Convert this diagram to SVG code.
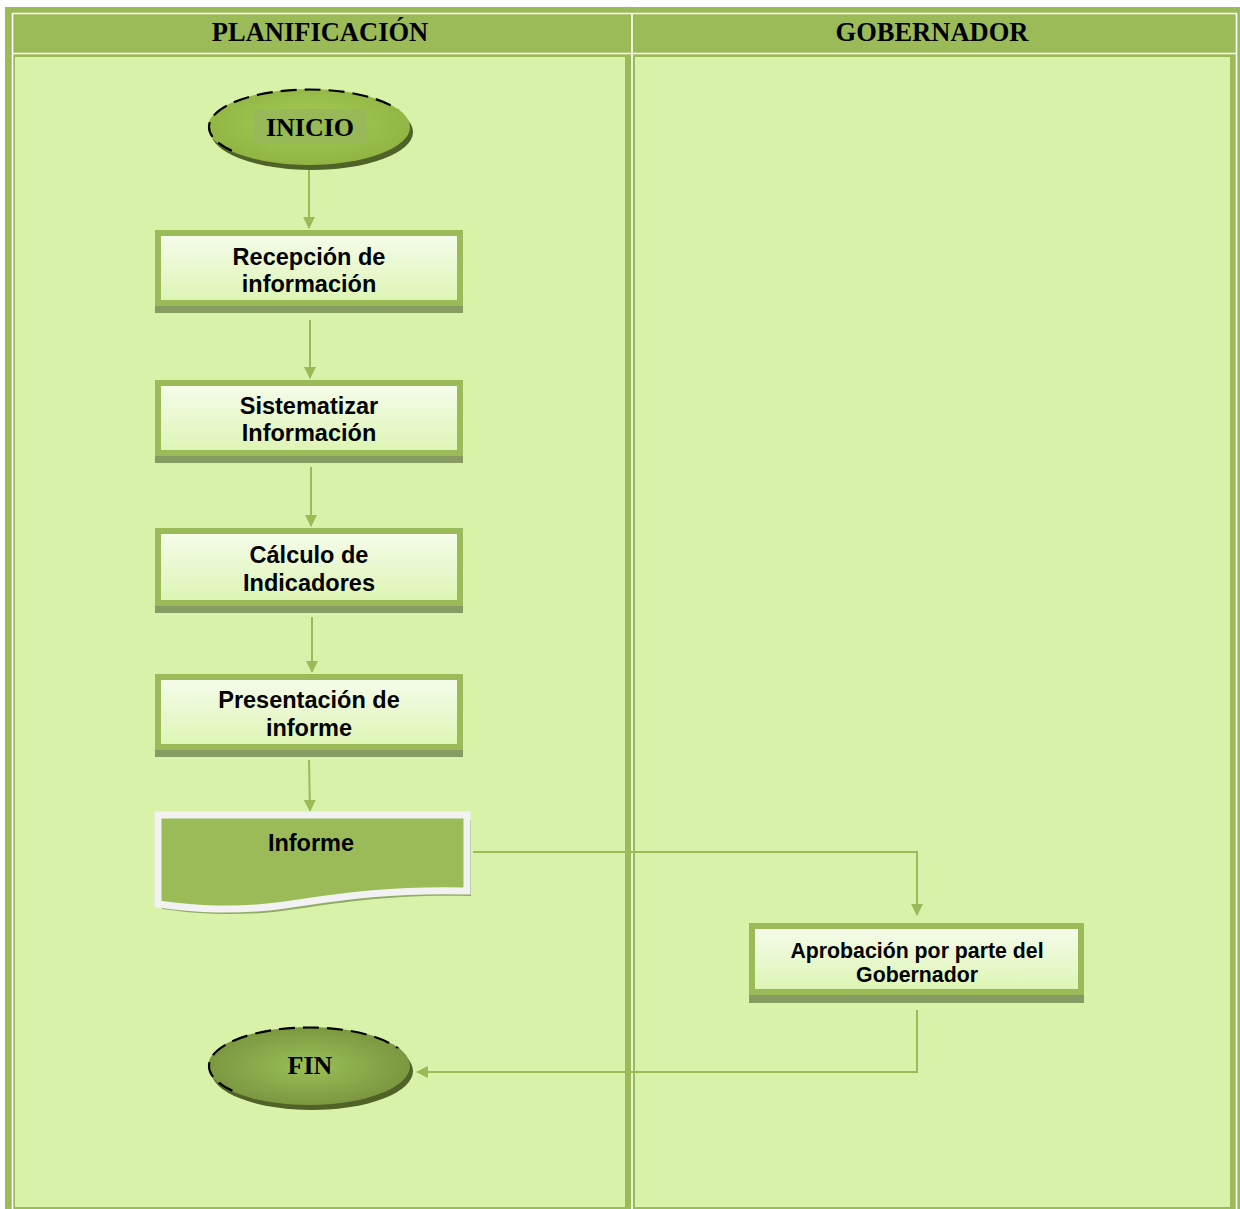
<svg xmlns="http://www.w3.org/2000/svg" width="1240" height="1209" viewBox="0 0 1240 1209">
  <defs>
    <linearGradient id="boxFill" x1="0" y1="0" x2="0" y2="1">
      <stop offset="0" stop-color="#F6FCEC"/>
      <stop offset="1" stop-color="#DCF5B2"/>
    </linearGradient>
    <radialGradient id="startFill" cx="0.5" cy="0.45" r="0.55">
      <stop offset="0" stop-color="#A9CC55"/>
      <stop offset="1" stop-color="#8FB443"/>
    </radialGradient>
    <radialGradient id="endFill" cx="0.5" cy="0.5" r="0.55">
      <stop offset="0" stop-color="#9BBF57"/>
      <stop offset="1" stop-color="#78943E"/>
    </radialGradient>
    <!-- upper-left part of a terminal outline -->
    <clipPath id="edgeClipStart">
      <polygon points="190,160 190,80 430,80 430,108 330,112 220,160"/>
    </clipPath>
    <clipPath id="edgeClipEnd">
      <polygon points="190,1099 190,1019 430,1019 430,1047 330,1051 220,1099"/>
    </clipPath>
    <marker id="arrow" viewBox="0 0 12 12" refX="11" refY="6" markerWidth="12" markerHeight="12" markerUnits="userSpaceOnUse" orient="auto">
      <path d="M0,0 L12,6 L0,12 Z" fill="#9BBB59"/>
    </marker>
    <style>
      .lane { fill: #D8F2A9; }
      .grid { stroke: #FFFFFF; stroke-width: 1.6; fill: none; }
      .head { font-family: "Liberation Serif", "Times New Roman", serif; font-weight: bold; font-size: 26.5px; fill: #000; text-anchor: middle; }
      .term { font-family: "Liberation Serif", "Times New Roman", serif; font-weight: bold; font-size: 26px; fill: #000; text-anchor: middle; }
      .lbl { font-family: "Liberation Sans", Arial, sans-serif; font-weight: bold; font-size: 23.5px; fill: #000; text-anchor: middle; }
      .lbl-s { font-family: "Liberation Sans", Arial, sans-serif; font-weight: bold; font-size: 21.3px; fill: #000; text-anchor: middle; }
      .box { fill: url(#boxFill); stroke: #9BBB59; stroke-width: 6; }
      .shadow { fill: #879C62; }
      .conn { fill: none; stroke: #9BBB59; stroke-width: 2; }
      .edge { fill: none; stroke: #000; stroke-width: 2.2; stroke-dasharray: 16 8; }
    </style>
  </defs>

  <!-- swimlane table -->
  <g id="lanes">
    <rect x="5" y="7" width="1235" height="1202" fill="#9BBB59"/>
    <line class="grid" x1="12" y1="13.5" x2="1237" y2="13.5"/>
    <line class="grid" x1="12" y1="53.5" x2="1237" y2="53.5"/>
    <line class="grid" x1="12.5" y1="13" x2="12.5" y2="1209"/>
    <line class="grid" x1="632" y1="13" x2="632" y2="1209"/>
    <line class="grid" x1="1236.5" y1="13" x2="1236.5" y2="1209"/>
    <rect class="lane" x="15" y="57" width="610" height="1150"/>
    <rect class="lane" x="635" y="57" width="595" height="1150"/>
    <text class="head" x="320" y="41">PLANIFICACIÓN</text>
    <text class="head" x="932" y="41">GOBERNADOR</text>
  </g>

  <!-- connectors -->
  <g id="connectors">
    <line class="conn" x1="309" y1="170" x2="309" y2="228" marker-end="url(#arrow)"/>
    <line class="conn" x1="310" y1="320" x2="310" y2="378" marker-end="url(#arrow)"/>
    <line class="conn" x1="311" y1="467" x2="311" y2="526" marker-end="url(#arrow)"/>
    <line class="conn" x1="312" y1="617" x2="312" y2="672" marker-end="url(#arrow)"/>
    <line class="conn" x1="309" y1="760" x2="310" y2="811" marker-end="url(#arrow)"/>
    <polyline class="conn" points="473,852 917,852 917,915" marker-end="url(#arrow)"/>
    <polyline class="conn" points="917,1010 917,1072 417,1072" marker-end="url(#arrow)"/>
  </g>

  <!-- start terminal -->
  <g id="inicio">
    <ellipse cx="312" cy="132" rx="101" ry="38" fill="#4F6228"/>
    <ellipse cx="309" cy="127" rx="101" ry="38" fill="url(#startFill)"/>
    <ellipse class="edge" cx="309" cy="127" rx="100" ry="37.5" clip-path="url(#edgeClipStart)"/>
    <rect x="253" y="109" width="114" height="35" fill="#97B957"/>
    <text class="term" x="310" y="136">INICIO</text>
  </g>

  <g id="recepcion">
    <rect class="shadow" x="155" y="235" width="308" height="78"/>
    <rect class="box" x="158" y="233" width="302" height="70"/>
    <text class="lbl" x="309" y="265">Recepción de</text>
    <text class="lbl" x="309" y="292">información</text>
  </g>

  <g id="sistematizar">
    <rect class="shadow" x="155" y="385" width="308" height="78"/>
    <rect class="box" x="158" y="383" width="302" height="70"/>
    <text class="lbl" x="309" y="414">Sistematizar</text>
    <text class="lbl" x="309" y="441">Información</text>
  </g>

  <g id="calculo">
    <rect class="shadow" x="155" y="533" width="308" height="80"/>
    <rect class="box" x="158" y="531" width="302" height="72"/>
    <text class="lbl" x="309" y="563">Cálculo de</text>
    <text class="lbl" x="309" y="591">Indicadores</text>
  </g>

  <g id="presentacion">
    <rect class="shadow" x="155" y="679" width="308" height="78"/>
    <rect class="box" x="158" y="677" width="302" height="70"/>
    <text class="lbl" x="309" y="708">Presentación de</text>
    <text class="lbl" x="309" y="736">informe</text>
  </g>

  <!-- document shape -->
  <g id="informe">
    <path d="M158,815 H467 V891 C390,889 340,897 285,905 C235,912 195,909 158,904 Z" transform="translate(4,5)" fill="#92AB66"/>
    <path d="M158,815 H467 V891 C390,889 340,897 285,905 C235,912 195,909 158,904 Z" fill="#9BBB59" stroke="#F2F2F2" stroke-width="7" stroke-linejoin="miter"/>
    <text class="lbl" x="311" y="851">Informe</text>
  </g>

  <g id="aprobacion">
    <rect class="shadow" x="749" y="929" width="335" height="74"/>
    <rect class="box" x="752" y="926" width="329" height="66"/>
    <text class="lbl-s" x="917" y="958">Aprobación por parte del</text>
    <text class="lbl-s" x="917" y="982">Gobernador</text>
  </g>

  <!-- end terminal -->
  <g id="fin">
    <ellipse cx="312" cy="1071" rx="101" ry="39" fill="#4F6228"/>
    <ellipse cx="309" cy="1066" rx="101" ry="39" fill="url(#endFill)"/>
    <ellipse class="edge" cx="309" cy="1066" rx="100" ry="38.5" clip-path="url(#edgeClipEnd)"/>
    <text class="term" x="310" y="1074">FIN</text>
  </g>
</svg>
